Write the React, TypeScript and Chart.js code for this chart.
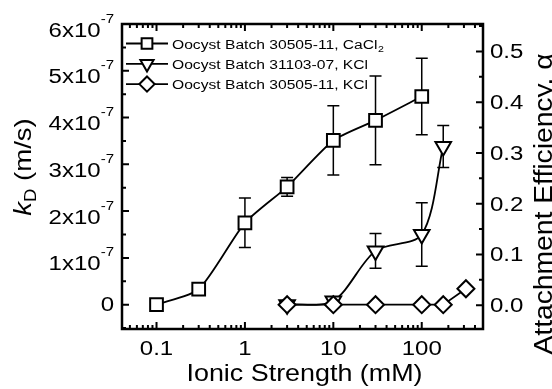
import React, { useEffect, useRef } from 'react';
import { Chart, registerables } from 'chart.js';

Chart.register(...registerables);

// ---------- data ----------
const ionicCaCl2 = [0.1, 0.3, 1, 3, 10, 30, 100];
const kdCaCl2 = [0, 0.33e-7, 1.75e-7, 2.52e-7, 3.51e-7, 3.94e-7, 4.45e-7];
const errCaCl2 = [0, 0, 0.53e-7, 0.2e-7, 0.74e-7, 0.95e-7, 0.82e-7];

const ionicKCl07 = [3, 10, 30, 100, 175];
const kdKCl07 = [0, 0.08e-7, 1.15e-7, 1.5e-7, 3.38e-7];
const errKCl07 = [0, 0, 0.37e-7, 0.68e-7, 0.45e-7];

const ionicKCl11 = [3, 10, 30, 100, 175, 316];
const kdKCl11 = [0, 0, 0, 0, 0, 0.34e-7];

const seriesNames = [
  'Oocyst Batch 30505-11, CaCl',
  'Oocyst Batch 31103-07, KCl',
  'Oocyst Batch 30505-11, KCl',
];
const seriesSubscripts = ['2', '', ''];

const xTickValues = [0.1, 1, 10, 100];
const xTickLabels = ['0.1', '1', '10', '100'];
const leftTickValues = [0, 1e-7, 2e-7, 3e-7, 4e-7, 5e-7, 6e-7];
const leftTickMantissas = ['0', '1', '2', '3', '4', '5', '6'];
const leftTickExponent = '-7';
const rightTickValues = [0, 0.1, 0.2, 0.3, 0.4, 0.5];
const rightTickLabels = ['0.0', '0.1', '0.2', '0.3', '0.4', '0.5'];

const xTitle = 'Ionic Strength (mM)';
const yTitleSymbol = 'k';
const yTitleSub = 'D';
const yTitleUnit = ' (m/s)';
const y1Title = 'Attachment Efficiency, \u03B1';

// ---------- helpers ----------
const FONT = '"Liberation Sans", Arial, Helvetica, sans-serif';

function setFont(ctx: CanvasRenderingContext2D, size: number, style = '') {
  ctx.font = `${style} ${size}px ${FONT}`.trim();
}
function tw(ctx: CanvasRenderingContext2D, text: string, size: number, sx: number, style = '') {
  ctx.save();
  setFont(ctx, size, style);
  const w = ctx.measureText(text).width * sx;
  ctx.restore();
  return w;
}
function dt(
  ctx: CanvasRenderingContext2D,
  text: string,
  x: number,
  y: number,
  size: number,
  sx: number,
  align: CanvasTextAlign = 'left',
  style = ''
) {
  ctx.save();
  setFont(ctx, size, style);
  ctx.translate(x, y);
  ctx.scale(sx, 1);
  ctx.textAlign = align;
  ctx.textBaseline = 'alphabetic';
  ctx.fillStyle = '#000';
  ctx.fillText(text, 0, 0);
  ctx.restore();
}

function markerPath(ctx: CanvasRenderingContext2D, style: string, rot: number, x: number, y: number, r: number) {
  ctx.beginPath();
  if (style === 'rect') {
    const s = Math.SQRT1_2 * r;
    ctx.rect(x - s, y - s, 2 * s, 2 * s);
  } else if (style === 'rectRot') {
    ctx.moveTo(x, y - r);
    ctx.lineTo(x + r, y);
    ctx.lineTo(x, y + r);
    ctx.lineTo(x - r, y);
    ctx.closePath();
  } else {
    let a = (rot * Math.PI) / 180;
    ctx.moveTo(x + Math.sin(a) * r, y - Math.cos(a) * r);
    a += (2 * Math.PI) / 3;
    ctx.lineTo(x + Math.sin(a) * r, y - Math.cos(a) * r);
    a += (2 * Math.PI) / 3;
    ctx.lineTo(x + Math.sin(a) * r, y - Math.cos(a) * r);
    ctx.closePath();
  }
}

const errorBarPlugin = {
  id: 'errorBars',
  beforeDatasetsDraw(chart: any) {
    const ctx: CanvasRenderingContext2D = chart.ctx;
    const xs = chart.scales.x;
    const ys = chart.scales.y;
    ctx.save();
    ctx.strokeStyle = '#000';
    ctx.lineWidth = 1.5;
    chart.data.datasets.forEach((ds: any) => {
      if (!ds.errors) return;
      ds.data.forEach((p: any, i: number) => {
        const e = ds.errors[i];
        if (!e) return;
        const px = xs.getPixelForValue(p.x);
        const y0 = ys.getPixelForValue(p.y - e);
        const y1 = ys.getPixelForValue(p.y + e);
        ctx.beginPath();
        ctx.moveTo(px, y0);
        ctx.lineTo(px, y1);
        ctx.moveTo(px - 6, y0);
        ctx.lineTo(px + 6, y0);
        ctx.moveTo(px - 6, y1);
        ctx.lineTo(px + 6, y1);
        ctx.stroke();
      });
    });
    ctx.restore();
  },
};

const framePlugin = {
  id: 'frameAndText',
  afterDraw(chart: any) {
    const ctx: CanvasRenderingContext2D = chart.ctx;
    const { left, right, top, bottom } = chart.chartArea;
    const xs = chart.scales.x;
    const ys = chart.scales.y;
    const y1s = chart.scales.y1;
    ctx.save();
    ctx.strokeStyle = '#000';
    ctx.fillStyle = '#000';

    // frame
    ctx.lineWidth = 2.5;
    ctx.strokeRect(left, top, right - left, bottom - top);

    // ticks
    ctx.lineWidth = 2;
    ctx.beginPath();
    for (let d = -2; d <= 3; d++) {
      for (let k = 1; k <= 9; k++) {
        const v = k * Math.pow(10, d);
        if (v <= xs.min || v >= xs.max) continue;
        const px = xs.getPixelForValue(v);
        const len = k === 1 ? 7 : 4;
        ctx.moveTo(px, bottom);
        ctx.lineTo(px, bottom - len);
        ctx.moveTo(px, top);
        ctx.lineTo(px, top + len);
      }
    }
    for (let i = -1; i <= 12; i++) {
      const v = i * 0.5e-7;
      if (v <= ys.min || v >= ys.max) continue;
      const py = ys.getPixelForValue(v);
      const len = i % 2 === 0 ? 7 : 4;
      ctx.moveTo(left, py);
      ctx.lineTo(left + len, py);
    }
    for (let i = -1; i <= 11; i++) {
      const v = i * 0.05;
      if (v <= y1s.min || v >= y1s.max) continue;
      const py = y1s.getPixelForValue(v);
      const len = i % 2 === 0 ? 7 : 4;
      ctx.moveTo(right, py);
      ctx.lineTo(right - len, py);
    }
    ctx.stroke();

    // bottom tick labels
    const TS = 20;
    const TSX = 1.2;
    xTickValues.forEach((v, i) => {
      dt(ctx, xTickLabels[i], xs.getPixelForValue(v), 355, TS, TSX, 'center');
    });

    // left tick labels
    const supSize = 12.5;
    leftTickValues.forEach((v, i) => {
      const py = ys.getPixelForValue(v);
      const rightEdge = 114;
      if (v === 0) {
        dt(ctx, leftTickMantissas[i], rightEdge, py + 6.5, TS, TSX, 'right');
      } else {
        const wsup = tw(ctx, leftTickExponent, supSize, TSX);
        dt(ctx, leftTickExponent, rightEdge, py - 1.5, supSize, TSX, 'right');
        dt(ctx, leftTickMantissas[i] + 'x10', rightEdge - wsup, py + 12.5, TS, TSX, 'right');
      }
    });

    // right tick labels
    rightTickValues.forEach((v, i) => {
      const py = y1s.getPixelForValue(v);
      dt(ctx, rightTickLabels[i], 490, py + 7, TS, TSX, 'left');
    });

    // x title
    dt(ctx, xTitle, (left + right) / 2 + 2, 381, 24, 1.12, 'center');

    // y title (rotated)
    {
      const S = 24;
      const SX = 1.15;
      const wk = tw(ctx, yTitleSymbol, S, SX, 'italic');
      const wD = tw(ctx, yTitleSub, 16, SX);
      const wU = tw(ctx, yTitleUnit, S, SX);
      const W = wk + wD + wU;
      ctx.save();
      ctx.translate(31, 167);
      ctx.rotate(-Math.PI / 2);
      let x0 = -W / 2;
      dt(ctx, yTitleSymbol, x0, 0, S, SX, 'left', 'italic');
      x0 += wk;
      dt(ctx, yTitleSub, x0, 5, 16, SX, 'left');
      x0 += wD;
      dt(ctx, yTitleUnit, x0, 0, S, SX, 'left');
      ctx.restore();
    }

    // right title (rotated)
    ctx.save();
    ctx.translate(552, 204);
    ctx.rotate(-Math.PI / 2);
    dt(ctx, y1Title, 0, 0, 25, 1.13, 'center');
    ctx.restore();

    // legend
    chart.data.datasets.forEach((ds: any, i: number) => {
      const cy = 43.5 + i * 20.3;
      ctx.save();
      ctx.strokeStyle = '#000';
      ctx.lineWidth = 1.8;
      ctx.beginPath();
      ctx.moveTo(126, cy);
      ctx.lineTo(168, cy);
      ctx.stroke();
      ctx.fillStyle = '#fff';
      ctx.lineWidth = 2;
      markerPath(ctx, ds.pointStyle, ds.pointRotation || 0, 147, cy, 7.6);
      ctx.fill();
      ctx.stroke();
      ctx.restore();
      const LS = 12.5;
      const LSX = 1.25;
      dt(ctx, seriesNames[i], 172, cy + 5, LS, LSX, 'left');
      if (seriesSubscripts[i]) {
        const w = tw(ctx, seriesNames[i], LS, LSX);
        dt(ctx, seriesSubscripts[i], 172 + w + 0.5, cy + 8, 8.5, LSX, 'left');
      }
    });

    ctx.restore();
  },
};

export default function App() {
  const ref = useRef<HTMLCanvasElement | null>(null);
  useEffect(() => {
    if (!ref.current) return;
    const common = {
      borderColor: '#000',
      borderWidth: 1.8,
      pointBackgroundColor: '#fff',
      pointBorderColor: '#000',
      pointBorderWidth: 2,
      pointHoverRadius: 0,
      fill: false,
      showLine: true,
    };
    const chart = new Chart(ref.current, {
      type: 'scatter',
      data: {
        datasets: [
          {
            ...common,
            label: seriesNames[0] + '\u2082',
            data: ionicCaCl2.map((x, i) => ({ x, y: kdCaCl2[i] })),
            errors: errCaCl2,
            pointStyle: 'rect',
            pointRadius: 9,
            tension: 0.22,
            order: 2,
          } as any,
          {
            ...common,
            label: seriesNames[1],
            data: ionicKCl07.map((x, i) => ({ x, y: kdKCl07[i] })),
            errors: errKCl07,
            pointStyle: 'triangle',
            pointRotation: 180,
            pointRadius: 9,
            tension: 0.3,
            order: 1,
          } as any,
          {
            ...common,
            label: seriesNames[2],
            data: ionicKCl11.map((x, i) => ({ x, y: kdKCl11[i] })),
            pointStyle: 'rectRot',
            pointRadius: 8.5,
            tension: 0,
            order: 0,
          } as any,
        ],
      },
      options: {
        animation: false,
        responsive: false,
        devicePixelRatio: 1,
        events: [],
        layout: { padding: { left: 122, top: 24, right: 69, bottom: 60 } },
        plugins: {
          legend: { display: false },
          tooltip: { enabled: false },
          title: { display: false },
        },
        scales: {
          x: { type: 'logarithmic', min: 0.0407, max: 493, display: false },
          y: { type: 'linear', min: -0.52e-7, max: 6.0e-7, display: false },
          y1: { type: 'linear', position: 'right', min: -0.047, max: 0.554, display: false },
        },
      },
      plugins: [errorBarPlugin, framePlugin],
    } as any);
    return () => chart.destroy();
  }, []);
  return (
    <div style={{ position: 'absolute', left: 0, top: 0, width: 552, height: 389, background: '#fff' }}>
      <canvas ref={ref} width={552} height={389} style={{ width: 552, height: 389, display: 'block' }} />
    </div>
  );
}
